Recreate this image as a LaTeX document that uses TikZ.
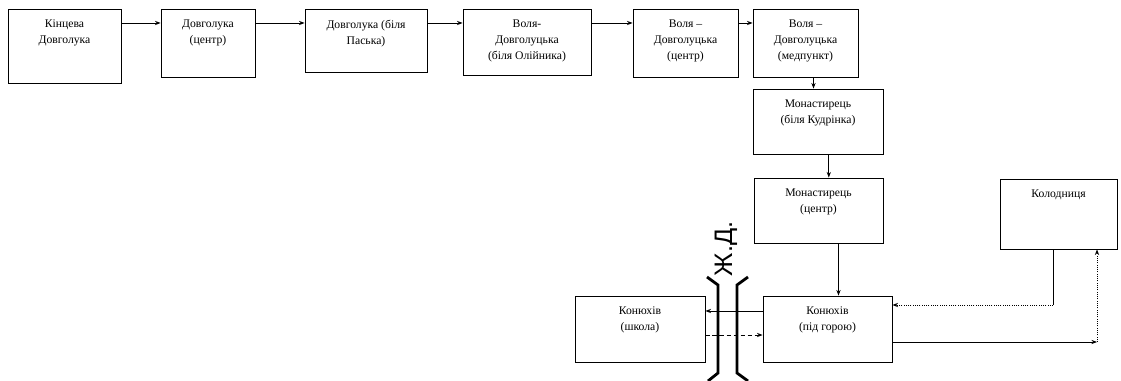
\documentclass[tikz,border=0pt]{standalone}
\usepackage{fontspec}
\setmainfont{Liberation Serif}
\newfontfamily\railfont{Liberation Sans}
\usetikzlibrary{fit,arrows.meta}

\tikzset{
  stop/.style={draw, line width=0.6pt, inner sep=0pt},
  lbl/.style={anchor=north, yshift=-1.6mm, align=center,
    font=\fontsize{8.3}{11.5}\selectfont},
  arr/.style={line width=0.6pt, -{Stealth[length=4pt,width=3pt]}},
  rail/.style={line width=2pt}
}

\begin{document}
\begin{tikzpicture}[x=0.025cm, y=-0.025cm]

      \useasboundingbox (0,0) rectangle (1121,381);

      % top row
      \node[stop, fit={(8,9) (121,83)}, label={[lbl]north:Кінцева\\Довголука}] (b1) {};
      \node[stop, fit={(161,9) (255,77)}, label={[lbl]north:Довголука\\(центр)}] (b2) {};
      \node[stop, fit={(305,9) (427,72)}, label={[lbl]north:Довголука (біля\\Паська)}] (b3) {};
      \node[stop, fit={(463,9) (591,75)}, label={[lbl]north:Воля-\\Довголуцька\\(біля Олійника)}] (b4) {};
      \node[stop, fit={(633,9) (738,77)}, label={[lbl]north:Воля –\\Довголуцька\\(центр)}] (b5) {};
      \node[stop, fit={(753,9) (858,77)}, label={[lbl]north:Воля –\\Довголуцька\\(медпункт)}] (b6) {};

      % going down
      \node[stop, fit={(753,89) (883,154)}, label={[lbl]north:Монастирець\\(біля Кудрінка)}] (b7) {};
      \node[stop, fit={(754,178) (883,243)}, label={[lbl]north:Монастирець\\(центр)}] (b8) {};
      \node[stop, fit={(1000,179) (1117,249)}, label={[lbl]north:Колодниця}] (b9) {};
      \node[stop, fit={(575,296) (705,362)}, label={[lbl]north:Конюхів\\(школа)}] (b10) {};
      \node[stop, fit={(763,296) (892,362)}, label={[lbl]north:Конюхів\\(під горою)}] (b11) {};

      \coordinate (row) at (0,23);
      \coordinate (turnA) at (1097,342);
      \coordinate (turnB) at (1053,305);

      \foreach \a/\b in {b1/b2, b2/b3, b3/b4, b4/b5, b5/b6}
        \draw[arr] (\a.east |- row) -- (\b.west |- row);

      \draw[arr] ([xshift=2mm]b6.south) -- ([xshift=2mm]b6.south |- b7.north);
      \draw[arr] ([xshift=2.7mm]b7.south) -- ([xshift=2.7mm]b7.south |- b8.north);
      \draw[arr] ([xshift=5mm]b8.south) -- ([xshift=5mm]b8.south |- b11.north);

      % across the railway
      \draw[arr] ([yshift=4.5mm]b11.west) -- ([yshift=4.5mm]b10.east);
      \draw[arr, densely dashed] ([yshift=-1.5mm]b10.east) -- ([yshift=-1.5mm]b11.west);

      % loop to Колодниця
      \draw[arr] (b11.east |- turnA) -- (turnA);
      \draw[arr, densely dotted] (turnA) -- (turnA |- b9.south);
      \draw[line width=0.6pt] (b9.south -| turnB) -- (turnB);
      \draw[arr, densely dotted] (turnB) -- (turnB -| b11.east);

      % railway
      \draw[rail] (707,277) -- (718,285) -- (718,373) -- (708,381);
      \draw[rail] (748,277) -- (737,285) -- (737,373) -- (748,381);
      \node[rotate=90, font=\railfont\fontsize{18}{18}\selectfont] (rw) at (726,249) {Ж.Д.};

    \end{tikzpicture}
\end{document}
